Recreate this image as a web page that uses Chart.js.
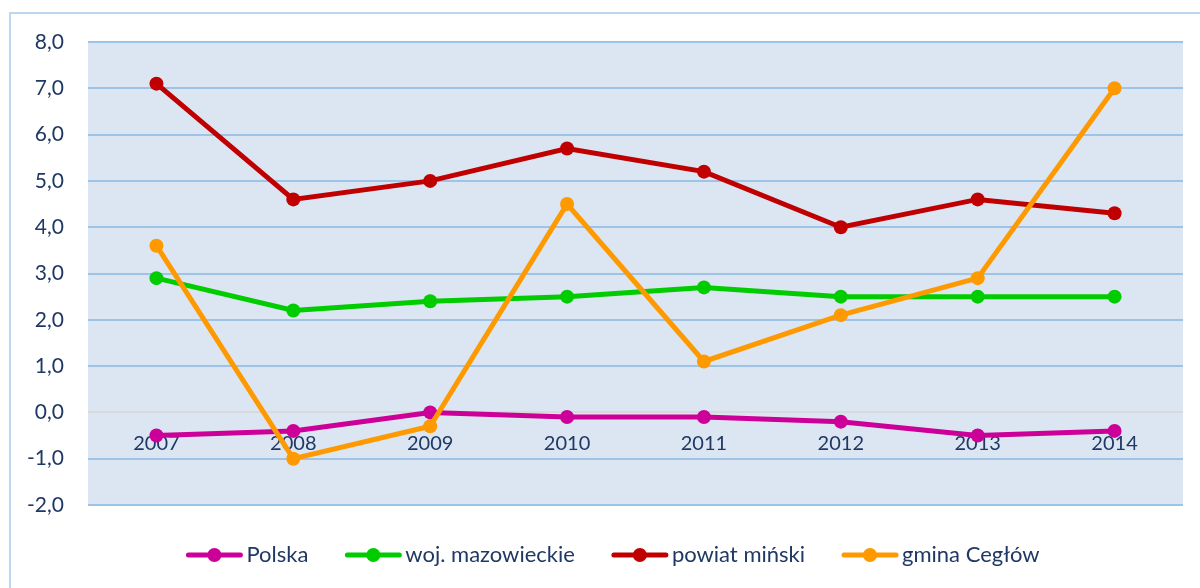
<!DOCTYPE html>
<html>
<head>
<meta charset="utf-8">
<script src="https://cdn.jsdelivr.net/npm/chart.js@4/dist/chart.umd.min.js"></script>
<style>
  html, body { margin: 0; padding: 0; background: #fff; }
  #wrap { position: relative; width: 1200px; height: 588px; }
</style>
</head>
<body>
<div id="wrap"><canvas id="chart" width="1200" height="588"></canvas></div>
<script>
const years = ['2007', '2008', '2009', '2010', '2011', '2012', '2013', '2014'];
const polska = [-0.5, -0.4, 0.0, -0.1, -0.1, -0.2, -0.5, -0.4];
const mazowieckie = [2.9, 2.2, 2.4, 2.5, 2.7, 2.5, 2.5, 2.5];
const powiatMinski = [7.1, 4.6, 5.0, 5.7, 5.2, 4.0, 4.6, 4.3];
const gminaCeglow = [3.6, -1.0, -0.3, 4.5, 1.1, 2.1, 2.9, 7.0];

const textColor = '#1f3864';
const fontFamily = 'Lato, "Open Sans", sans-serif';

const plotBg = {
    id: 'plotBg',
    beforeDraw(chart) {
        const { ctx, chartArea: a } = chart;
        ctx.save();
        // outer frame (left + top)
        ctx.strokeStyle = '#bdd7ee';
        ctx.lineWidth = 2;
        ctx.beginPath();
        ctx.moveTo(10, 588); ctx.lineTo(10, 13); ctx.lineTo(1200, 13);
        ctx.stroke();
        ctx.fillStyle = '#dce6f2';
        ctx.fillRect(a.left, a.top, a.right - a.left, a.bottom - a.top);
        ctx.restore();
    }
};

// Excel-style legend: line with dot, then label, centred under the plot
const lineLegend = {
    id: 'lineLegend',
    afterDraw(chart) {
        const { ctx } = chart;
        const sets = chart.data.datasets;
        const markW = 56, gapText = 4, gapItem = 37, y = 555;
        ctx.save();
        ctx.font = '22px ' + fontFamily;
        const widths = sets.map(d => ctx.measureText(d.label).width);
        const total = widths.reduce((s, w) => s + markW + gapText + w, 0) + gapItem * (sets.length - 1);
        let x = 613 - total / 2;
        sets.forEach((d, i) => {
            ctx.strokeStyle = d.borderColor;
            ctx.lineWidth = 5;
            ctx.lineCap = 'round';
            ctx.beginPath(); ctx.moveTo(x + 2, y); ctx.lineTo(x + markW - 2, y); ctx.stroke();
            ctx.fillStyle = d.borderColor;
            ctx.beginPath(); ctx.arc(x + markW / 2, y, 7, 0, Math.PI * 2); ctx.fill();
            ctx.fillStyle = textColor;
            ctx.textBaseline = 'middle';
            ctx.fillText(d.label, x + markW + gapText, y);
            x += markW + gapText + widths[i] + gapItem;
        });
        ctx.restore();
    }
};

function ds(label, data, color, order) {
    return {
        label, data, order,
        borderColor: color,
        backgroundColor: color,
        borderWidth: 5,
        pointRadius: 7,
        pointHoverRadius: 7,
        pointBorderWidth: 0,
        tension: 0
    };
}

new Chart(document.getElementById('chart'), {
    type: 'line',
    data: {
        labels: years,
        datasets: [
            ds('Polska', polska, '#cc0099', 3),
            ds('woj. mazowieckie', mazowieckie, '#00cc00', 2),
            ds('powiat miński', powiatMinski, '#c00000', 1),
            ds('gmina Cegłów', gminaCeglow, '#ff9900', 0)
        ]
    },
    options: {
        responsive: false,
        animation: false,
        layout: { padding: { top: 42, right: 17, left: 0, bottom: 83 } },
        plugins: {
            tooltip: { enabled: false },
            legend: { display: false }
        },
        scales: {
            x: {
                position: { y: 0 },
                offset: true,
                z: 1,
                grid: { display: false },
                border: { display: false },
                ticks: {
                    color: textColor,
                    font: { family: fontFamily, size: 20 },
                    padding: 11
                }
            },
            y: {
                min: -2,
                max: 8,
                afterFit(scale) { scale.width = 88; },
                border: { display: false },
                grid: {
                    drawTicks: false,
                    lineWidth: 2,
                    color: ctx => ctx.tick && ctx.tick.value === 0 ? '#d9d9d9' : '#9dc3e6'
                },
                ticks: {
                    stepSize: 1,
                    padding: 24,
                    color: textColor,
                    font: { family: fontFamily, size: 21 },
                    callback: v => v.toFixed(1).replace('.', ',')
                }
            }
        }
    },
    plugins: [plotBg, lineLegend]
});
</script>
</body>
</html>
